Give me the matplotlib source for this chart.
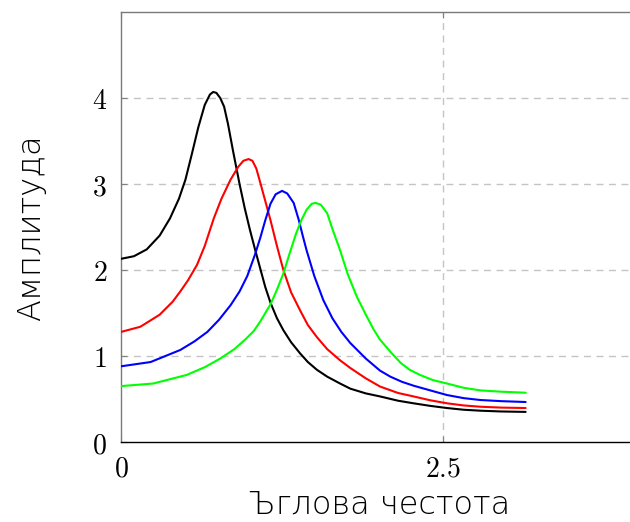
import matplotlib
matplotlib.use("Agg")
import matplotlib.pyplot as plt

# values
x_black = [0.00, 0.10, 0.20, 0.30, 0.38, 0.45, 0.50, 0.55, 0.60, 0.65, 0.69, 0.715, 0.74,
           0.77, 0.80, 0.83, 0.87, 0.92, 0.96, 1.00, 1.04, 1.08, 1.12, 1.16, 1.21, 1.26,
           1.32, 1.39, 1.45, 1.52, 1.60, 1.70, 1.78, 1.90, 2.01, 2.15, 2.27, 2.40,
           2.53, 2.66, 2.79, 2.95, 3.14]
y_black = [2.13, 2.16, 2.24, 2.40, 2.60, 2.83, 3.05, 3.35, 3.66, 3.92, 4.04, 4.07, 4.06,
           4.00, 3.90, 3.70, 3.38, 3.00, 2.72, 2.47, 2.24, 2.02, 1.80, 1.62, 1.44, 1.30,
           1.16, 1.03, 0.93, 0.84, 0.76, 0.68, 0.62, 0.565, 0.53, 0.48, 0.45, 0.42,
           0.395, 0.375, 0.364, 0.355, 0.35]

x_red = [0.00, 0.15, 0.30, 0.40, 0.46, 0.52, 0.59, 0.65, 0.72, 0.78, 0.85, 0.91, 0.95,
         0.99, 1.02, 1.05, 1.08, 1.12, 1.16, 1.21, 1.26, 1.32, 1.39, 1.45, 1.52,
         1.60, 1.70, 1.78, 1.90, 2.01, 2.15, 2.27, 2.40, 2.53, 2.66, 2.79, 2.95, 3.14]
y_red = [1.28, 1.34, 1.48, 1.63, 1.75, 1.88, 2.06, 2.28, 2.60, 2.83, 3.05, 3.20, 3.27,
         3.29, 3.27, 3.18, 3.02, 2.80, 2.58, 2.28, 2.00, 1.74, 1.53, 1.36, 1.22,
         1.08, 0.95, 0.86, 0.74, 0.645, 0.57, 0.53, 0.485, 0.45, 0.425, 0.41, 0.40, 0.395]

x_blue = [0.00, 0.23, 0.46, 0.57, 0.67, 0.76, 0.85, 0.92, 0.98, 1.04, 1.08, 1.12, 1.16,
          1.20, 1.25, 1.29, 1.34, 1.38, 1.41, 1.44, 1.50, 1.57, 1.64, 1.71, 1.78,
          1.90, 2.01, 2.09, 2.18, 2.27, 2.40, 2.53, 2.66, 2.79, 2.95, 3.14]
y_blue = [0.88, 0.93, 1.07, 1.17, 1.28, 1.42, 1.59, 1.75, 1.93, 2.18, 2.37, 2.58, 2.77,
          2.88, 2.92, 2.89, 2.78, 2.58, 2.40, 2.23, 1.93, 1.65, 1.44, 1.28, 1.15,
          0.97, 0.83, 0.76, 0.70, 0.655, 0.60, 0.546, 0.51, 0.488, 0.475, 0.465]

x_green = [0.00, 0.25, 0.51, 0.65, 0.77, 0.88, 0.97, 1.03, 1.08, 1.16, 1.21, 1.26, 1.31,
           1.36, 1.40, 1.44, 1.48, 1.51, 1.55, 1.60, 1.64, 1.70, 1.76, 1.83, 1.90,
           1.96, 2.01, 2.09, 2.17, 2.24, 2.32, 2.42, 2.53, 2.66, 2.79, 2.95, 3.14]
y_green = [0.65, 0.68, 0.78, 0.87, 0.97, 1.08, 1.20, 1.29, 1.40, 1.60, 1.77, 1.96, 2.20,
           2.43, 2.58, 2.70, 2.77, 2.78, 2.76, 2.66, 2.48, 2.23, 1.95, 1.69, 1.48,
           1.31, 1.19, 1.05, 0.92, 0.84, 0.78, 0.72, 0.68, 0.63, 0.60, 0.585, 0.573]

x_ticks = [0, 2.5]
y_ticks = [0, 1, 2, 3, 4]

plt.rcParams['mathtext.fontset'] = 'cm'

fig = plt.figure(figsize=(6.3, 5.22), dpi=100)
ax = fig.add_axes([121/630, 1 - 442/522, 1 - 121/630, 430/522])

for xs, ys, c in [(x_black, y_black, 'black'), (x_red, y_red, '#ff0000'),
                  (x_blue, y_blue, '#0000ff'), (x_green, y_green, '#00ff00')]:
    ax.plot(xs, ys, color=c, lw=1.5, solid_joinstyle='round',
            solid_capstyle='round', zorder=3)

ax.set_xlim(0, 3.95)
ax.set_ylim(0, 5)

# dashed grid, only at the inner ticks
for v in y_ticks[1:]:
    ax.axhline(v, color='#c4c4c4', lw=1, ls=(0, (5, 4)), zorder=1)
ax.axvline(2.5, color='#c4c4c4', lw=1, ls=(0, (5, 4)), zorder=1)

ax.set_xticks(x_ticks)
ax.set_xticklabels(['$' + ('%g' % t) + '$' for t in x_ticks], fontsize=20)
ax.set_yticks(y_ticks)
ax.set_yticklabels(['$%d$' % t for t in y_ticks], fontsize=20)
ax.tick_params(direction='in', length=4, width=0.8, color='#808080', top=True)
ax.tick_params(axis='x', pad=9)
ax.tick_params(axis='y', pad=10)

for s in ['left', 'top']:
    ax.spines[s].set_color('#7a7a7a')
    ax.spines[s].set_linewidth(1.0)
ax.spines['bottom'].set_color('black')
ax.spines['bottom'].set_linewidth(1.0)
ax.spines['right'].set_visible(False)

fig.text(380/630, 1 - 505/522, 'Ъглова честота', fontsize=23, family='DejaVu Sans',
         fontweight='light', ha='center', va='center')
fig.text(31/630, 1 - 228/522, 'Амплитуда', fontsize=23, family='DejaVu Sans',
         fontweight='light', ha='center', va='center', rotation=90)

fig.savefig('out.png', dpi=100)
